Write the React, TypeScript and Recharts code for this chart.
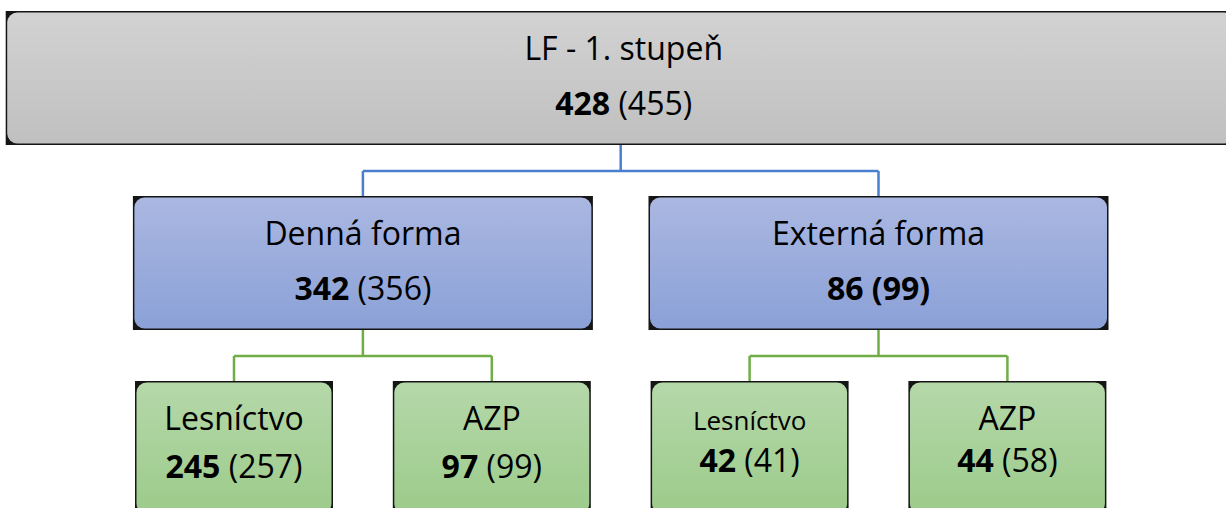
import React from 'react';
import { ComposedChart, XAxis, YAxis, Scatter, ReferenceArea, ReferenceLine } from 'recharts';

// ---- data ----
const nodeIds = ['lf', 'den', 'ext', 'den_les', 'den_azp', 'ext_les', 'ext_azp'];
const nodeLabels = ['LF - 1. stupeň', 'Denná forma', 'Externá forma', 'Lesníctvo', 'AZP', 'Lesníctvo', 'AZP'];
const currentCounts = [428, 342, 86, 245, 97, 42, 44];
const previousCounts = [455, 356, 99, 257, 99, 41, 58];
const parentIndex = [-1, 0, 0, 1, 1, 2, 2];
const previousShownBold = ['ext'];

// ---- layout / style constants ----
const W = 1226;
const H = 508;
const SLOT_PX = 257.8;
const FIRST_SLOT_PX = 234;
const LEVEL_PX = 185;
const FIRST_LEVEL_PX = 11;
const X_DOMAIN: [number, number] = [-FIRST_SLOT_PX / SLOT_PX, (W - FIRST_SLOT_PX) / SLOT_PX];
const Y_DOMAIN: [number, number] = [-FIRST_LEVEL_PX / LEVEL_PX, (H - FIRST_LEVEL_PX) / LEVEL_PX];
const BOX_W_PX = [1230, 460, 198];
const BOX_H_PX = 134;
const GAP_PX = 25;
const FONT = "'Open Sans', 'Noto Sans', sans-serif";
const LEVEL_FILL = [
  ['#d2d2d2', '#c0c0c0'],
  ['#aab7e1', '#8ba1d7'],
  ['#b5d8a9', '#9ccb8b'],
];
const CONNECTOR_COLOR = ['#4472c4', '#4a7fd0', '#70ad47'];
const LABEL_SIZE: Record<string, number> = { ext_les: 26 };
const VALUE_OFFSET: Record<string, number> = { den_les: 97, den_azp: 97, ext_les: 91, ext_azp: 91 };
const ROOT_TEXT_SHIFT = 3;

// ---- tree layout derived from parent indexes ----
const levels = parentIndex.map((_, i) => {
  let l = 0;
  let p = parentIndex[i];
  while (p >= 0) { l++; p = parentIndex[p]; }
  return l;
});
const children = nodeIds.map((_, i) => parentIndex.map((p, j) => (p === i ? j : -1)).filter((j) => j >= 0));
const slots: number[] = new Array(nodeIds.length).fill(0);
let leafCounter = 0;
const place = (i: number): number => {
  if (children[i].length === 0) { slots[i] = leafCounter++; return slots[i]; }
  const cs = children[i].map(place);
  slots[i] = cs.reduce((a, b) => a + b, 0) / cs.length;
  return slots[i];
};
place(0);

const boxH = BOX_H_PX / LEVEL_PX;
const gap = GAP_PX / LEVEL_PX;

const points = nodeIds.map((id, i) => ({
  id,
  x: slots[i],
  y: levels[i],
  level: levels[i],
  label: nodeLabels[i],
  cur: currentCounts[i],
  prev: previousCounts[i],
}));

type Seg = { a: { x: number; y: number }; b: { x: number; y: number }; color: string };
const segments: Seg[] = [];
nodeIds.forEach((_, i) => {
  const cs = children[i];
  if (!cs.length) return;
  const cl = levels[cs[0]];
  const midY = cl - gap;
  const color = CONNECTOR_COLOR[cl];
  segments.push({ a: { x: slots[i], y: levels[i] + boxH }, b: { x: slots[i], y: midY }, color });
  const xs = cs.map((c) => slots[c]);
  segments.push({ a: { x: Math.min(...xs), y: midY }, b: { x: Math.max(...xs), y: midY }, color });
  cs.forEach((c) => segments.push({ a: { x: slots[c], y: midY }, b: { x: slots[c], y: cl }, color }));
});

const BoxShape = (props: any) => {
  const { x, y, width, height, id, level } = props;
  const [c1, c2] = LEVEL_FILL[level];
  const gid = `grad-${id}`;
  return (
    <g>
      <defs>
        <linearGradient id={gid} x1="0" y1="0" x2="0" y2="1">
          <stop offset="0%" stopColor={c1} />
          <stop offset="100%" stopColor={c2} />
        </linearGradient>
      </defs>
      <rect x={x} y={y} width={width} height={height} fill="#151515" />
      <rect x={x + 1.5} y={y + 1.5} width={width - 3} height={height - 3} rx={10} ry={10} fill={`url(#${gid})`} />
    </g>
  );
};

const LabelShape = (props: any) => {
  const { cx, cy, payload } = props;
  if (cx == null || cy == null) return null;
  const id = payload.id;
  const size = LABEL_SIZE[id] ?? 32;
  const valueOffset = VALUE_OFFSET[id] ?? 104;
  const boldPrev = previousShownBold.includes(id);
  const tx = cx + (payload.level === 0 ? ROOT_TEXT_SHIFT : 0);
  return (
    <g fontFamily={FONT} fill="#000">
      <text x={tx} y={cy + 49} textAnchor="middle" fontSize={size}>{payload.label}</text>
      <text x={tx} y={cy + valueOffset} textAnchor="middle" fontSize={32}>
        <tspan fontWeight={700}>{payload.cur}</tspan>
        <tspan fontWeight={boldPrev ? 700 : 400}>{` (${payload.prev})`}</tspan>
      </text>
    </g>
  );
};

export default function App() {
  return (
    <div style={{ position: 'absolute', left: 0, top: 0, width: W, height: H, background: '#fff' }}>
      <ComposedChart width={W} height={H} margin={{ top: 0, right: 0, bottom: 0, left: 0 }} data={points}>
        <XAxis type="number" dataKey="x" domain={X_DOMAIN} hide allowDataOverflow />
        <YAxis type="number" dataKey="y" domain={Y_DOMAIN} reversed hide allowDataOverflow />
        {points.map((p) => {
          const half = BOX_W_PX[p.level] / SLOT_PX / 2;
          return (
            <ReferenceArea
              key={`box-${p.id}`}
              x1={p.x - half}
              x2={p.x + half}
              y1={p.y}
              y2={p.y + boxH}
              ifOverflow="visible"
              shape={(sp: any) => <BoxShape {...sp} id={p.id} level={p.level} />}
            />
          );
        })}
        {segments.map((s, i) => (
          <ReferenceLine
            key={`seg-${i}`}
            segment={[s.a, s.b]}
            stroke={s.color}
            strokeWidth={2.5}
            ifOverflow="visible"
          />
        ))}
        <Scatter data={points} isAnimationActive={false} shape={(sp: any) => <LabelShape {...sp} />} />
      </ComposedChart>
    </div>
  );
}
